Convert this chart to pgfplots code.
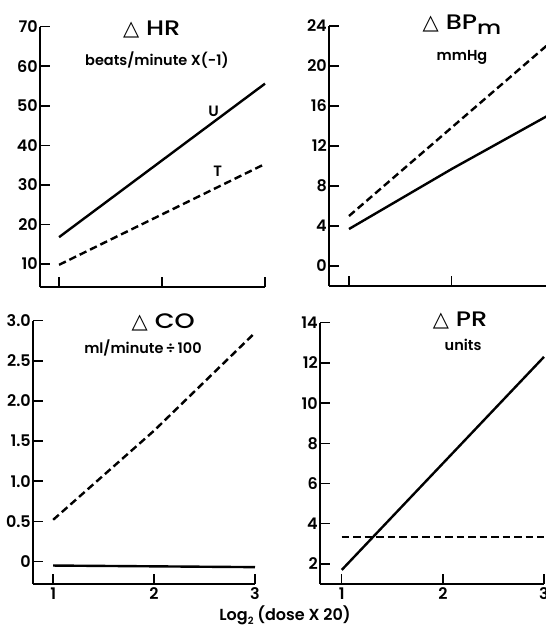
\documentclass[border=0pt]{standalone}
\usepackage{pgfplots}
\pgfplotsset{compat=1.18}
\usepackage{fontspec}
\setmainfont{Poppins}[UprightFont=* Medium, BoldFont=* SemiBold]
\newfontfamily\tfont{Poppins}[UprightFont=* Medium, FakeStretch=1.22]
\newfontfamily\dv{DejaVu Sans}

\newcommand{\tri}{{\dv\fontsize{21}{21}\selectfont △}\hspace{7pt}}

\tikzset{
  ttl/.style={font=\tfont\fontsize{21}{21}\selectfont, anchor=center},
  sub/.style={font=\fontsize{14.5}{14.5}\selectfont\bfseries, anchor=center},
}

\pgfplotsset{
  panel/.style={
    scale only axis,
    anchor=south west,
    axis x line=bottom, axis y line=left,
    axis line style={-, line width=1.5pt},
    tick align=inside,
    major tick length=10pt,
    tick style={line width=1.5pt, black},
    xtick={1,2,3}, xmax=3,
    /pgf/number format/assume math mode=true,
    tick label style={font=\fontsize{16}{16}\selectfont\bfseries},
    yticklabel style={inner xsep=2pt},
    clip=false,
  },
  solidl/.style={black, line width=2.4pt, no marks},
  dashl/.style={black, line width=2.4pt, no marks, dash pattern=on 7.5pt off 4pt},
}

\begin{document}
\begin{tikzpicture}

% Delta HR
\begin{axis}[panel, at={(40pt,340pt)}, width=225pt, height=260.3pt,
  xmin=0.815, ymin=4.2, ymax=70, ytick={10,20,...,70}, xticklabels={}]
  \addplot[solidl] coordinates {(1,16.8) (3,55.6)};
  \addplot[dashl] coordinates {(1,9.8) (3,35.3)};
  \node[ttl] at (axis cs:1.9,69.2) {\tri HR};
  \node[sub] at (axis cs:1.95,61.6) {beats/minute X(-1)};
  \node[font=\fontsize{15}{15}\selectfont\bfseries] at (axis cs:2.5,48.7) {U};
  \node[font=\fontsize{15}{15}\selectfont\bfseries] at (axis cs:2.54,33.5) {T};
\end{axis}

% Delta BPm
\begin{axis}[panel, at={(329pt,341pt)}, width=225.4pt, height=260pt,
  xmin=0.805, ymin=-2, ymax=24, ytick={0,4,...,24}, xticklabels={}]
  \addplot[dashl] coordinates {(1,5.0) (3,22.7)};
  \addplot[solidl] coordinates {(1,3.7) (2,9.7) (3,15.4)};
  \node[ttl] at (axis cs:2.1,24.1) {\tri BP\raisebox{-0.45ex}{\fontsize{19}{19}\selectfont m}};
  \node[sub] at (axis cs:2.1,20.9) {mmHg};
\end{axis}

% Delta CO
\begin{axis}[panel, at={(33pt,43pt)}, width=222pt, height=263.3pt,
  xmin=0.8, ymin=-0.28, ymax=3, ytick={0,0.5,...,3},
  yticklabels={0,0.5,1.0,1.5,2.0,2.5,3.0}, xticklabels={1,2,3}]
  \addplot[dashl] coordinates {(1,0.52) (2,1.63) (3,2.85)};
  \addplot[solidl] coordinates {(1,-0.05) (3,-0.07)};
  \node[ttl] at (axis cs:2.09,2.98) {\tri CO};
  \node[sub] at (axis cs:1.89,2.66) {ml/minute\,÷\,100};
\end{axis}

% Delta PR
\begin{axis}[panel, at={(320pt,43pt)}, width=224pt, height=261.3pt,
  xmin=0.785, ymin=1, ymax=14, ytick={2,4,...,14}, xticklabels={1,2,3}]
  \addplot[solidl] coordinates {(1,1.7) (3,12.3)};
  \addplot[dashl] coordinates {(1,3.33) (3,3.33)};
  \node[ttl] at (axis cs:2.17,14.13) {\tri PR};
  \node[sub] at (axis cs:2.2,12.9) {units};
\end{axis}

\node[font=\fontsize{16}{16}\selectfont\bfseries] at (285pt,12pt)
  {Log\raisebox{-0.5ex}{\fontsize{10}{10}\selectfont 2} (dose X 20)};

\pgfresetboundingbox
\path[use as bounding box] (0pt,0pt) rectangle (546pt,627pt);
\end{tikzpicture}
\end{document}
